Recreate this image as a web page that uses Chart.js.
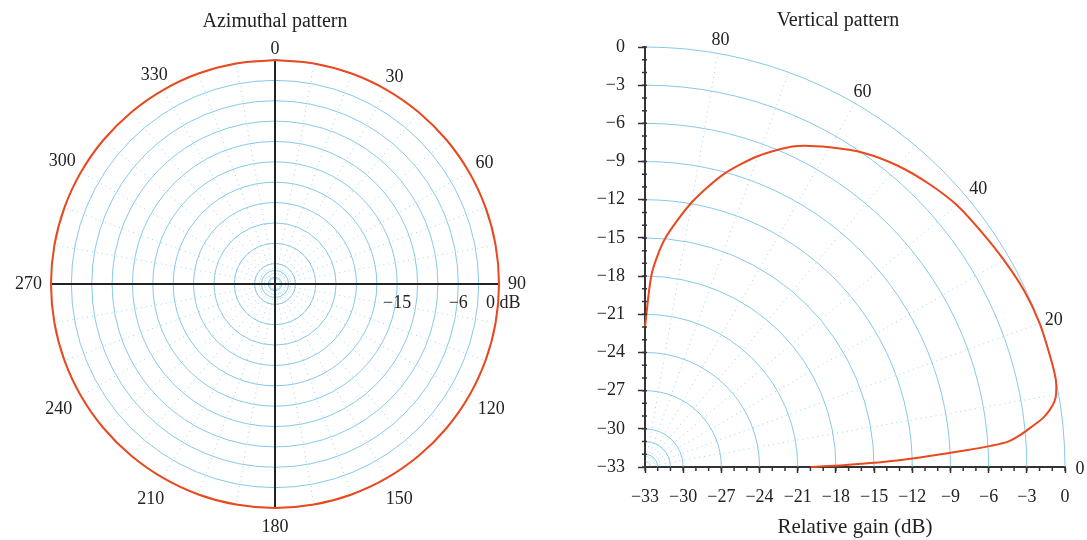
<!DOCTYPE html>
<html>
<head>
<meta charset="utf-8">
<title>Antenna patterns</title>
<script src="https://cdn.jsdelivr.net/npm/chart.js@4.4.1/dist/chart.umd.min.js"></script>
<style>
  html, body { margin: 0; padding: 0; background: #fff; }
  #wrap { position: relative; width: 1087px; height: 540px; }
  .box { position: absolute; top: 0; height: 540px; }
  #azBox { left: 0; width: 545px; }
  #elBox { left: 545px; width: 542px; }
</style>
</head>
<body>
<div id="wrap">
  <div class="box" id="azBox"><canvas id="azChart"></canvas></div>
  <div class="box" id="elBox"><canvas id="elChart"></canvas></div>
</div>
<script>
// gain range shown on both plots (dB)
const GAIN_MIN = -33;
const GAIN_MAX = 0;

// horizontal (azimuth) cut, degrees clockwise from north
const azimuthDeg = [0, 10, 20, 30, 40, 50, 60, 70, 80, 90, 100, 110, 120, 130, 140, 150, 160, 170, 180,
                    190, 200, 210, 220, 230, 240, 250, 260, 270, 280, 290, 300, 310, 320, 330, 340, 350, 360];
const azimuthGain = [0, 0, 0, 0, 0, 0, 0, 0, 0, 0, 0, 0, 0, 0, 0, 0, 0, 0, 0,
                     0, 0, 0, 0, 0, 0, 0, 0, 0, 0, 0, 0, 0, 0, 0, 0, 0, 0];
const azimuthLabelDeg = [0, 30, 60, 90, 120, 150, 180, 210, 240, 270, 300, 330];
const azimuthGainLabels = [-15, -6, 0];

// vertical (elevation) cut, degrees above horizon
const elevationDeg = [0, 0.5, 1, 1.5, 2, 2.5, 3, 3.5, 4, 5, 6, 7, 8, 9, 10, 12, 15, 20, 25, 30,
                      35, 40, 45, 50, 55, 60, 65, 70, 75, 80, 85, 88, 90];
const elevationGain = [-20.0, -17.4, -15.3, -13.2, -11.4, -9.6, -7.6, -5.8, -4.4, -3.3, -2.4, -1.5, -0.9, -0.45, -0.2, 0, 0, 0, -0.15, -0.45,
                       -0.75, -1.0, -1.5, -2.1, -2.9, -4.0, -5.2, -7.0, -9.2, -11.9, -15.0, -17.8, -22.0];
const elevationLabelDeg = [0, 20, 40, 60, 80];

// gain ticks / rings every 3 dB
const gainTicks = [-33, -30, -27, -24, -21, -18, -15, -12, -9, -6, -3, 0];
// extra fine rings close to the pole
const innerRings = [1, 2];

const SERIF = '"Liberation Serif", "Times New Roman", serif';
const INK = '#222';
const RED = 'rgb(234, 72, 30)';
const GRID = 'rgba(95, 182, 230, 0.75)';
const GRID_DOT = 'rgba(95, 182, 230, 0.6)';

const rad = d => d * Math.PI / 180;
const fmt = v => (v < 0 ? '\u2212' + Math.abs(v) : String(v));
const ringRadii = gainTicks.filter(g => g > GAIN_MIN).map(g => g - GAIN_MIN);

Chart.defaults.font.family = SERIF;
Chart.defaults.color = INK;
Chart.defaults.animation = false;

// ---- azimuthal pattern: full circle, north up ----
const span = GAIN_MAX - GAIN_MIN;
const azPoints = azimuthDeg.map((a, i) => {
  const r = azimuthGain[i] - GAIN_MIN;
  return { x: r * Math.sin(rad(a)), y: r * Math.cos(rad(a)) };
});

const azGrid = {
  id: 'azGrid',
  beforeDatasetsDraw(chart) {
    const { ctx, scales: { x, y } } = chart;
    const cx = x.getPixelForValue(0), cy = y.getPixelForValue(0);
    const px = v => x.getPixelForValue(v) - cx;
    const R = px(span);
    ctx.save();
    ctx.strokeStyle = GRID;
    ctx.lineWidth = 1;
    ringRadii.concat(innerRings).forEach(r => {
      ctx.beginPath();
      ctx.arc(cx, cy, px(r), 0, Math.PI * 2);
      ctx.stroke();
    });
    // dotted spokes every 10 degrees
    ctx.strokeStyle = GRID_DOT;
    ctx.setLineDash([1, 4]);
    for (let a = 0; a < 360; a += 10) {
      if (a % 90 === 0) continue;
      ctx.beginPath();
      ctx.moveTo(cx, cy);
      ctx.lineTo(cx + R * Math.sin(rad(a)), cy - R * Math.cos(rad(a)));
      ctx.stroke();
    }
    ctx.setLineDash([]);
    // black cross through the centre
    ctx.strokeStyle = INK;
    ctx.lineWidth = 2;
    ctx.beginPath();
    ctx.moveTo(cx - R, cy); ctx.lineTo(cx + R, cy);
    ctx.moveTo(cx, cy - R); ctx.lineTo(cx, cy + R);
    ctx.stroke();
    ctx.restore();
  },
  afterDraw(chart) {
    const { ctx, scales: { x, y } } = chart;
    const cx = x.getPixelForValue(0), cy = y.getPixelForValue(0);
    const R = x.getPixelForValue(span) - cx;
    ctx.save();
    ctx.fillStyle = INK;
    ctx.font = '18px ' + SERIF;
    ctx.textAlign = 'center';
    ctx.textBaseline = 'middle';
    azimuthLabelDeg.forEach(a => {
      const t = String(a);
      const w = ctx.measureText(t).width;
      const s = Math.sin(rad(a)), c = Math.cos(rad(a));
      // labels sit a touch lower: tighter above the circle, looser below
      const d = R + 9 - 4 * c + Math.abs(s) * w / 2 + Math.abs(c) * 6;
      ctx.fillText(t, cx + d * s, cy - d * c);
    });
    // gain labels along the east axis
    azimuthGainLabels.forEach(g => {
      const gx = x.getPixelForValue(g - GAIN_MIN);
      if (g === GAIN_MAX) {
        ctx.textAlign = 'left';
        ctx.fillText(fmt(g) + ' dB', gx - 13, cy + 19);
      } else {
        ctx.textAlign = 'center';
        ctx.fillText(fmt(g), gx, cy + 19);
      }
    });
    ctx.restore();
  }
};

new Chart(document.getElementById('azChart'), {
  type: 'scatter',
  data: {
    datasets: [{
      data: azPoints,
      showLine: true,
      borderColor: RED,
      borderWidth: 2,
      pointRadius: 0,
      tension: 0.35,
      clip: false
    }]
  },
  options: {
    responsive: true,
    maintainAspectRatio: false,
    layout: { padding: { left: 51, right: 46, top: 0, bottom: 32 } },
    scales: {
      x: { type: 'linear', min: -span, max: span, display: false },
      y: { type: 'linear', min: -span, max: span, display: false }
    },
    plugins: {
      legend: { display: false },
      tooltip: { enabled: false },
      title: {
        display: true,
        text: 'Azimuthal pattern',
        color: INK,
        font: { size: 20, weight: 'normal' },
        padding: { top: 10, bottom: 26 }
      }
    }
  },
  plugins: [azGrid]
});

// ---- vertical pattern: quarter circle from the (-33, -33) corner ----
const elPoints = elevationDeg.map((e, i) => {
  const r = elevationGain[i] - GAIN_MIN;
  return { x: GAIN_MIN + r * Math.cos(rad(e)), y: GAIN_MIN + r * Math.sin(rad(e)) };
});

const elGrid = {
  id: 'elGrid',
  beforeDatasetsDraw(chart) {
    const { ctx, scales: { x, y } } = chart;
    const ox = x.getPixelForValue(GAIN_MIN), oy = y.getPixelForValue(GAIN_MIN);
    const px = v => x.getPixelForValue(GAIN_MIN + v) - ox;
    const R = px(span);
    ctx.save();
    ctx.strokeStyle = GRID;
    ctx.lineWidth = 1;
    ringRadii.concat(innerRings).forEach(r => {
      ctx.beginPath();
      ctx.arc(ox, oy, px(r), -Math.PI / 2, 0);
      ctx.stroke();
    });
    ctx.strokeStyle = GRID_DOT;
    ctx.setLineDash([1, 4]);
    for (let e = 10; e < 90; e += 10) {
      ctx.beginPath();
      ctx.moveTo(ox, oy);
      ctx.lineTo(ox + R * Math.cos(rad(e)), oy - R * Math.sin(rad(e)));
      ctx.stroke();
    }
    ctx.restore();
  },
  afterDraw(chart) {
    const { ctx, scales: { x, y } } = chart;
    const ox = x.getPixelForValue(GAIN_MIN), oy = y.getPixelForValue(GAIN_MIN);
    const R = x.getPixelForValue(GAIN_MAX) - ox;
    ctx.save();
    // minor ticks every 1 dB
    ctx.strokeStyle = '#333';
    ctx.lineWidth = 1.5;
    ctx.beginPath();
    for (let v = GAIN_MIN; v <= GAIN_MAX; v++) {
      const tx = x.getPixelForValue(v), ty = y.getPixelForValue(v);
      ctx.moveTo(tx, oy); ctx.lineTo(tx, oy + 4);
      ctx.moveTo(ox - 3, ty); ctx.lineTo(ox + 2, ty);
    }
    ctx.stroke();
    ctx.fillStyle = INK;
    ctx.textAlign = 'center';
    ctx.textBaseline = 'middle';
    // plot title, sitting a little left of the axes' centre
    ctx.font = '20px ' + SERIF;
    ctx.fillText('Vertical pattern', 293, 21);
    // elevation angle labels
    ctx.font = '18px ' + SERIF;
    elevationLabelDeg.forEach(e => {
      const d = R + 15;
      ctx.fillText(String(e), ox + d * Math.cos(rad(e)), oy - d * Math.sin(rad(e)) + 2);
    });
    ctx.restore();
  }
};

const axisCommon = {
  type: 'linear',
  min: GAIN_MIN,
  max: GAIN_MAX,
  afterBuildTicks: s => { s.ticks = gainTicks.map(v => ({ value: v })); },
  border: { display: true, color: '#333', width: 2 },
  ticks: {
    color: INK,
    font: { size: 18 },
    autoSkip: false,
    maxRotation: 0,
    callback: v => fmt(v)
  }
};

new Chart(document.getElementById('elChart'), {
  type: 'scatter',
  data: {
    datasets: [{
      data: elPoints,
      showLine: true,
      borderColor: RED,
      borderWidth: 2,
      pointRadius: 0,
      tension: 0.25,
      clip: false
    }]
  },
  options: {
    responsive: true,
    maintainAspectRatio: false,
    layout: { padding: { left: 0, right: 22, top: 47, bottom: 0 } },
    scales: {
      x: {
        ...axisCommon,
        afterFit: s => { s.height = 73; },
        grid: { drawOnChartArea: false, tickLength: 6, tickColor: '#333', tickWidth: 1.5 },
        ticks: { ...axisCommon.ticks, padding: 13 },
        title: {
          display: true,
          text: 'Relative gain (dB)',
          color: INK,
          font: { size: 21 },
          padding: { top: 0, bottom: 0 }
        }
      },
      y: {
        ...axisCommon,
        afterFit: s => { s.width = 100; },
        grid: { drawOnChartArea: false, tickLength: 7, tickColor: '#333', tickWidth: 1.5 },
        ticks: { ...axisCommon.ticks, padding: 13 }
      }
    },
    plugins: {
      legend: { display: false },
      tooltip: { enabled: false }
    }
  },
  plugins: [elGrid]
});
</script>
</body>
</html>
